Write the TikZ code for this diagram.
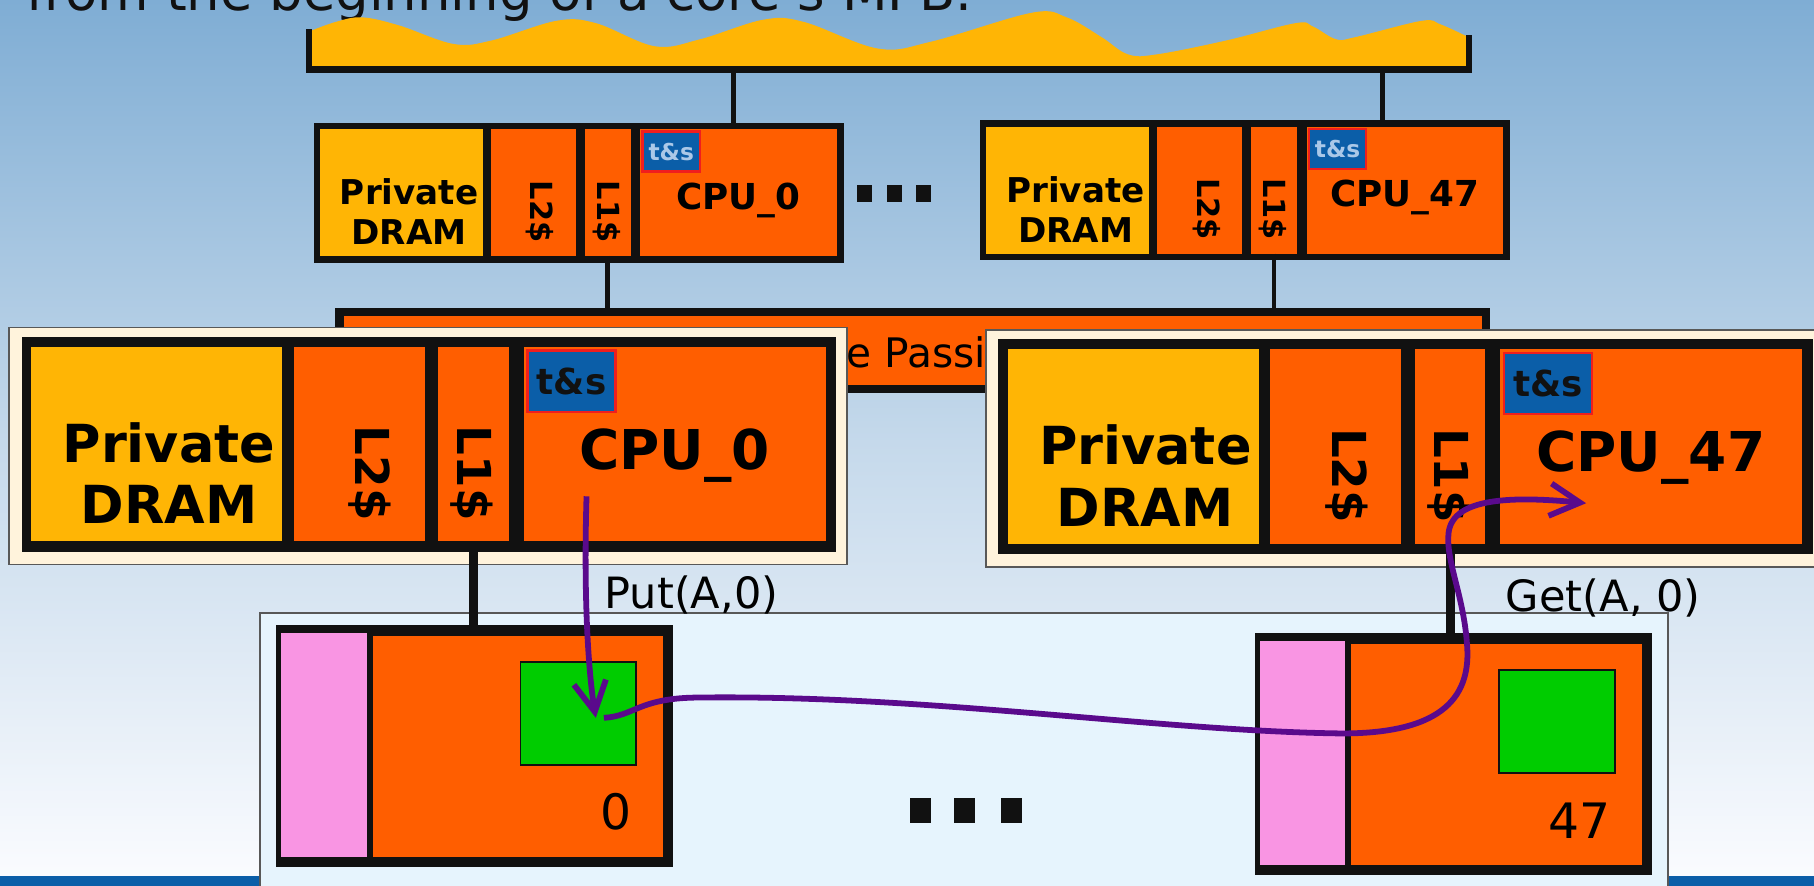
\documentclass[tikz,border=0pt]{standalone}
\usepackage{fontspec}
\setmainfont{DejaVu Sans}
\usepackage{xcolor}
\usetikzlibrary{arrows.meta}
\usetikzlibrary{calc}
\definecolor{myorange}{RGB}{255,94,0}
\definecolor{myyellow}{RGB}{255,181,5}
\definecolor{mypink}{RGB}{249,149,227}
\definecolor{mygreen}{RGB}{0,204,0}
\definecolor{myink}{RGB}{17,17,17}
\definecolor{mycream}{RGB}{255,243,220}
\definecolor{mypale}{RGB}{230,244,253}
\definecolor{myblue}{RGB}{11,94,168}
\definecolor{myred}{RGB}{240,30,30}
\definecolor{mylight}{RGB}{170,200,232}
\definecolor{mypurple}{RGB}{90,10,140}
\definecolor{skytop}{RGB}{127,173,212}
\definecolor{skymid}{RGB}{197,217,235}
\definecolor{skybot}{RGB}{251,252,255}

\tikzset{
cellsize/.style 2 args={minimum width=#1*0.1mm, minimum height=#2*0.1mm},
cell/.style={anchor=north west, inner sep=0pt, outer sep=0pt},
tsbox/.style={cell, fill=myblue, draw=myred, line width=0.2mm, font=\bfseries\fontsize{8.8}{10}\selectfont},
dramtxt/.style={font=\bfseries\fontsize{12.9}{15.1}\selectfont, align=center, inner sep=0pt},
cputxt/.style={font=\bfseries\fontsize{13.5}{15}\selectfont, inner sep=0pt, anchor=base},
cachetxt/.style={font=\bfseries\fontsize{11.5}{13}\selectfont, inner sep=0pt, rotate=-90},
wire/.style={draw=myink, line width=0.4mm},
thickwire/.style={draw=myink, line width=0.75mm},
frame/.style={fill=#1, draw=myink!70, line width=0.15mm},
msg/.style={draw=mypurple, line width=0.5mm, -{Straight Barb[length=2.6mm,width=2.8mm]}},
calltxt/.style={font=\fontsize{10.6}{12}\selectfont, anchor=west, inner sep=0pt},
idtxt/.style={font=\fontsize{12}{14}\selectfont, anchor=east, inner sep=0pt},
}

% one core tile: name, x, y, scale, cpu label, t&s colour
\newcommand{\cpupanel}[6]{%
\begin{scope}[shift={(#2,#3)}, scale=#4, transform shape]
\node[cell, fill=myink, cellsize={704}{186}] (#1) at (0,0) {};
\node[cell, fill=myyellow, cellsize={217}{168}] (#1-dram) at (8,9) {};
\node[cell, fill=myorange, cellsize={113}{168}] (#1-l2) at (235,9) {};
\node[cell, fill=myorange, cellsize={61}{168}] (#1-l1) at (360,9) {};
\node[cell, fill=myorange, cellsize={261}{168}] (#1-cpu) at (434,9) {};
\node[tsbox, cellsize={76}{53}, text=#6] (#1-ts) at (437,12) {t\&s};
\node[dramtxt] (#1-dramlbl) at (127,118) {Private\\DRAM};
\node[cachetxt] (#1-l2lbl) at (301,118) {L2\$};
\node[cachetxt] (#1-l1lbl) at (389,118) {L1\$};
\node[cputxt] (#1-cpulbl) at (564,115) {#5};
\end{scope}}

% one buffer block: name, x, y, core id
\newcommand{\memblock}[4]{%
\begin{scope}[shift={(#2,#3)}]
\node[cell, fill=myink, cellsize={343}{209}] (#1) at (0,0) {};
\node[cell, fill=mypink, cellsize={74}{194}] (#1-flag) at (4,7) {};
\node[cell, fill=myorange, cellsize={251}{191}] (#1-buf) at (83,10) {};
\node[cell, fill=mygreen, draw=myink, line width=0.15mm, cellsize={100}{89}] (#1-slot) at (211,32) {};
\node[idtxt] (#1-id) at (308,162) {#4};
\end{scope}}

\begin{document}
\begin{tikzpicture}[x=0.1mm, y=-0.1mm]
\useasboundingbox (0,0) rectangle (1568,765);
\clip (0,0) rectangle (1568,765);
\shade[top color=skytop, bottom color=skybot, middle color=skymid] (0,0) rectangle (1568,765);
\fill[myblue] (0,757) rectangle (1568,766);
\node[anchor=base west, inner sep=0pt, font=\fontsize{13}{15}\selectfont, text=myink] (title) at (22,9) {from the beginning of a core's MPB.};

% shared off-chip memory
\fill[myyellow] (268,60) -- plot[smooth, tension=0.6] coordinates {(268,27) (290,19) (313,15) (345,22) (392,38) (425,35) (481,18) (515,20) (566,40) (605,34) (660,17) (695,19) (759,42) (805,36) (892,11) (922,15) (952,32) (975,47) (1000,47) (1060,35) (1120,20) (1135,23) (1155,34) (1172,32) (1229,18) (1245,21) (1269,32)} -- (1269,60) -- cycle;
\draw[line width=0.55mm, myink] (267,25) -- (267,60) -- (1270,60) -- (1270,30);
\coordinate (pool-a) at (634,60);
\coordinate (pool-b) at (1195,60);

% small tiles
\cpupanel{tp0}{271}{106}{0.651}{CPU\_0}{mylight}
\cpupanel{tp47}{847}{104}{0.651}{CPU\_47}{mylight}
\draw[wire] (pool-a) -- (pool-a |- tp0.north);
\draw[wire] (pool-b) -- (pool-b |- tp47.north);
\foreach \x in {741,767,792}{
\fill[myink] (\x,160) rectangle +(13,15);
}

\node[draw=myink, fill=myorange, line width=0.7mm, cellsize={991}{67}, inner sep=0pt] (mpb) at (789,303) {};
\node[anchor=base west, inner sep=0pt, font=\fontsize{10}{12}\selectfont] (mpb-lbl) at (599,318) {Message Passing Buffer};
\draw[wire] (tp0-l1.south) -- (tp0-l1.south |- mpb.north);
\draw[wire] (tp47-l1.south) -- (tp47-l1.south |- mpb.north);

% zoomed tiles
\draw[frame=mycream] (8,283) rectangle (732,488);
\draw[frame=mycream] (852,285) rectangle (1600,490);
\cpupanel{fp0}{19}{291}{1}{CPU\_0}{myink}
\cpupanel{fp47}{863}{293}{1}{CPU\_47}{myink}

% zoomed buffers
\draw[frame=mypale] (225,530) rectangle (1442,800);
\memblock{mb0}{239}{540}{0}
\memblock{mb47}{1085}{547}{47}
\draw[thickwire] (fp0-l1.south) -- (mb0.north -| fp0-l1.south);
\draw[thickwire] (fp47-l1.south) -- (mb47.north -| fp47-l1.south);
\foreach \x in {787,825,865}{
\fill[myink] (\x,690) rectangle +(18,21);
}

% put and get
\coordinate (put-a) at (507,429);
\coordinate (put-b) at ($(mb0-slot.center)+(15,4)$);
\coordinate (get-a) at ($(mb0-slot.center)+(22,4)$);
\coordinate (get-b) at (1371,435);
\draw[msg] (put-a) .. controls (504,530) and (510,590) .. (put-b);
\draw[msg] (get-a) .. controls (548,619) and (552,604) .. (600,603)
 .. controls (800,600) and (1000,632) .. (1160,634)
 .. controls (1250,634) and (1272,600) .. (1268,556)
 .. controls (1265,515) and (1250,485) .. (1252,462)
 .. controls (1254,432) and (1300,428) .. (get-b);
\node[calltxt] (put-lbl) at (522,514) {Put(A,0)};
\node[calltxt] (get-lbl) at (1301,517) {Get(A, 0)};
\end{tikzpicture}
\end{document}
